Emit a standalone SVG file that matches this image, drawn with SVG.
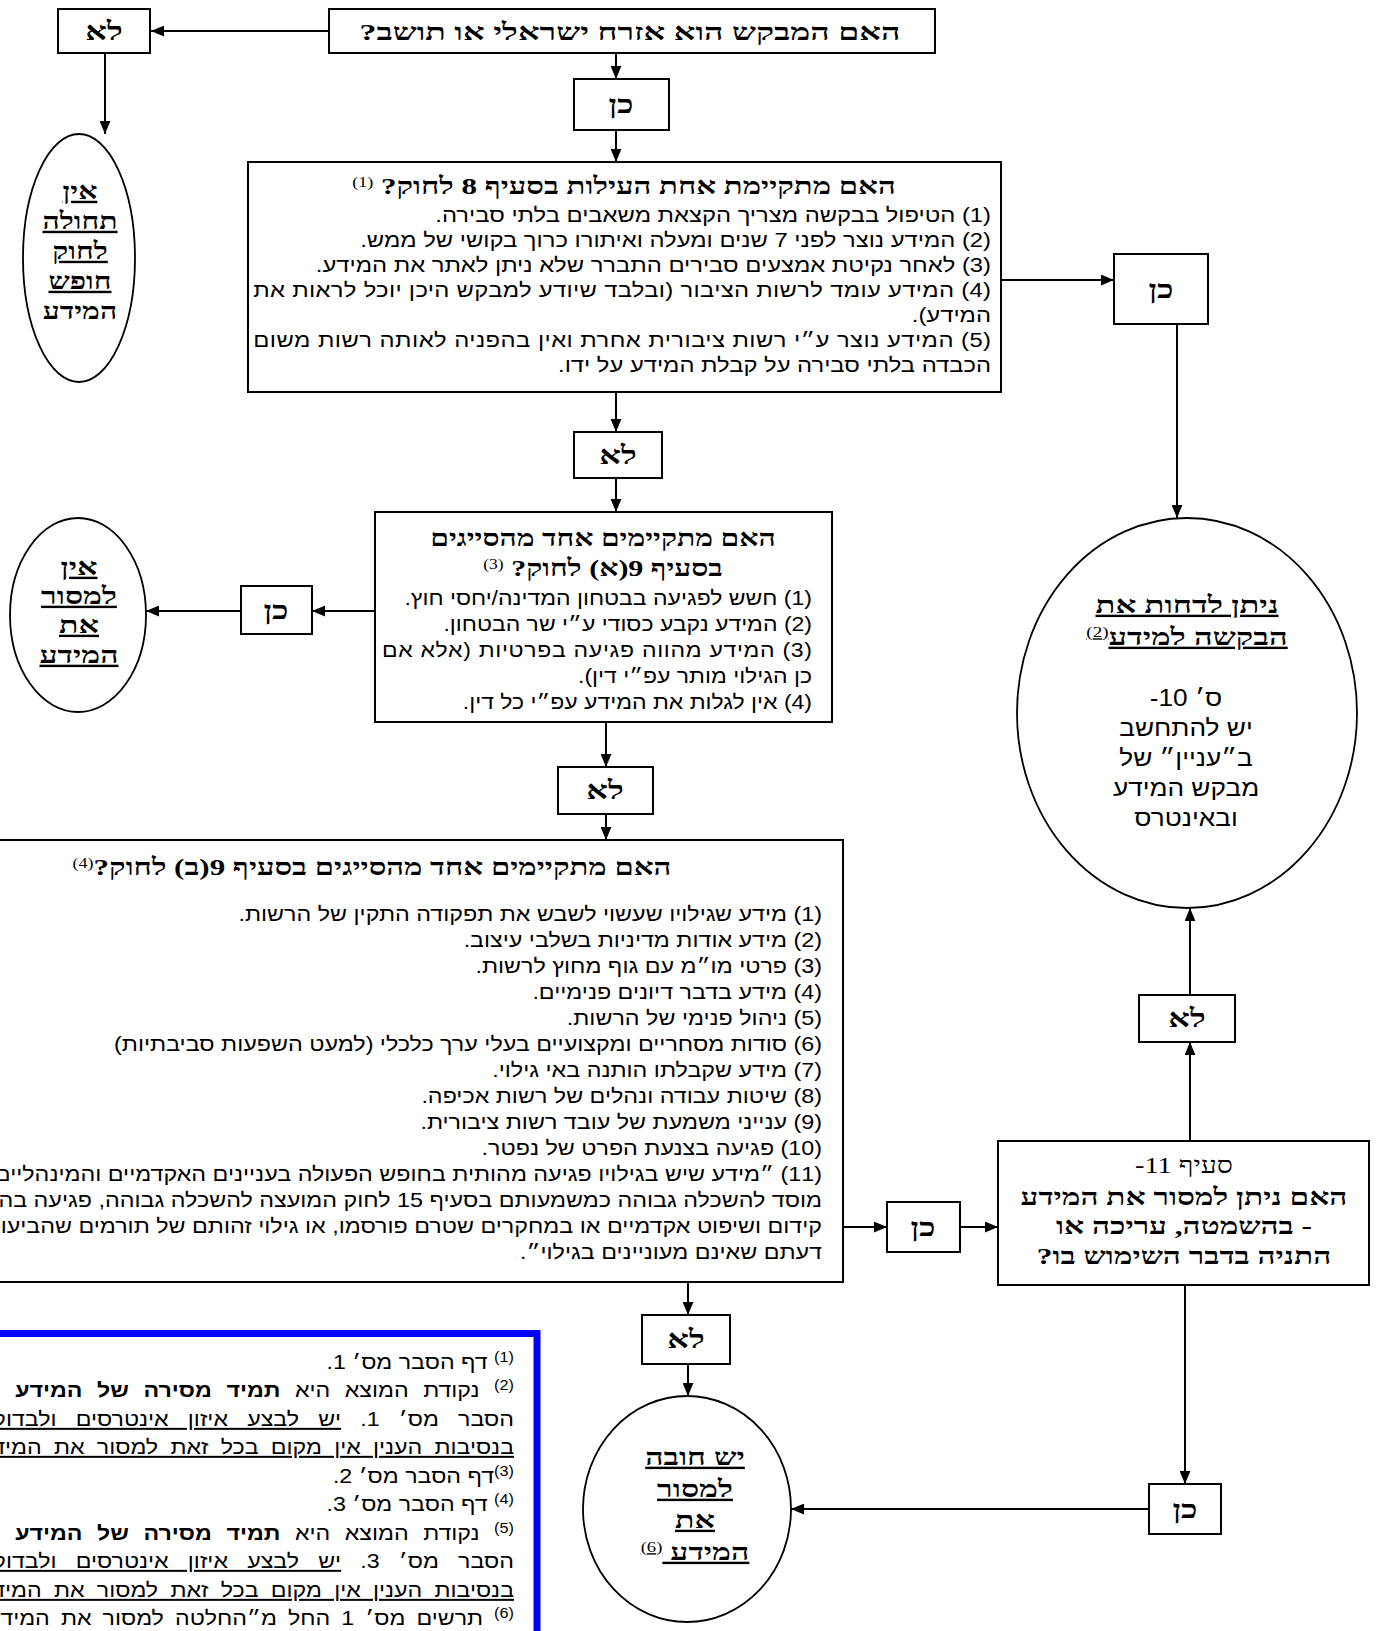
<svg xmlns="http://www.w3.org/2000/svg" width="1378" height="1631" viewBox="0 0 1378 1631">
<style>
.box{fill:#fff;stroke:#000;stroke-width:2}
.ell{fill:#fff;stroke:#000;stroke-width:1.8}
.c{stroke:#000;stroke-width:2;fill:none;marker-end:url(#ah)}
text{font-family:"Liberation Serif","DejaVu Serif",serif;fill:#000;direction:rtl}
.yn{font-weight:bold;font-size:26px;text-anchor:middle}
.t{font-weight:bold;font-size:24px;text-anchor:middle}
.r{font-family:"Liberation Sans","DejaVu Sans",sans-serif;font-size:20px;text-anchor:start}
.e{font-weight:bold;font-size:24px;text-anchor:middle;text-decoration:underline}
.s{font-family:"Liberation Sans","DejaVu Sans",sans-serif;font-size:23px;text-anchor:middle}
.f{font-family:"Liberation Sans","DejaVu Sans",sans-serif;font-size:20px;text-anchor:start}
.u{text-decoration:underline}
.sup{font-size:14px;font-weight:normal}
</style>
<defs>
<marker id="ah" viewBox="0 0 12 10" refX="12" refY="5" markerWidth="13" markerHeight="11" markerUnits="userSpaceOnUse" orient="auto"><path d="M0,0L12,5L0,10z" fill="#000"/></marker>
</defs>

<g id="connectors">
<path class="c" d="M329,31H151"/>
<path class="c" d="M616,53V79"/>
<path class="c" d="M105,53V134"/>
<path class="c" d="M616,130V162"/>
<path class="c" d="M1001,280H1114"/>
<path class="c" d="M1177,324V518"/>
<path class="c" d="M616,392V432"/>
<path class="c" d="M616,478V512"/>
<path class="c" d="M375,611H312"/>
<path class="c" d="M241,611H146"/>
<path class="c" d="M606,722V767"/>
<path class="c" d="M606,814V840"/>
<path class="c" d="M843,1227H887"/>
<path class="c" d="M960,1227H998"/>
<path class="c" d="M1190,1141V1042"/>
<path class="c" d="M1190,995V908"/>
<path class="c" d="M688,1282V1315"/>
<path class="c" d="M688,1364V1396"/>
<path class="c" d="M1185,1285V1484"/>
<path class="c" d="M1149,1509H791"/>
</g>

<g id="q1">
<rect class="box" x="329" y="9" width="606" height="44"/>
<text class="t" x="630" y="40" font-size="25" textLength="541" lengthAdjust="spacingAndGlyphs">האם המבקש הוא אזרח ישראלי או תושב?</text>
</g>
<g id="no1">
<rect class="box" x="58" y="9" width="92" height="44"/>
<g transform="translate(104,0) scale(1.3,1)"><text class="yn" x="0" y="40">לא</text></g>
</g>
<g id="yes1">
<rect class="box" x="574" y="79" width="95" height="51"/>
<g transform="translate(621,0) scale(1.3,1)"><text class="yn" x="0" y="113">כן</text></g>
</g>
<g id="ell1">
<ellipse class="ell" cx="79" cy="258" rx="56" ry="124"/>
<g transform="translate(80,0) scale(1.25,1)">
<text class="e" x="0" y="199">אין</text>
<text class="e" x="0" y="229">תחולה</text>
<text class="e" x="0" y="259">לחוק</text>
<text class="e" x="0" y="289">חופש</text>
<text class="t" x="0" y="319">המידע</text>
</g>
</g>

<g id="sec8">
<rect class="box" x="248" y="162" width="753" height="230"/>
<g transform="translate(624,0) scale(1.29,1)"><text class="t" x="0" y="194">האם מתקיימת אחת העילות בסעיף 8 לחוק? <tspan class="sup" baseline-shift="super">(1)</tspan></text></g>
<g transform="translate(991,0) scale(1.19,1)">
<text class="r" x="0" y="222">(1) הטיפול בבקשה מצריך הקצאת משאבים בלתי סבירה.</text>
<text class="r" x="0" y="247">(2) המידע נוצר לפני 7 שנים ומעלה ואיתורו כרוך בקושי של ממש.</text>
<text class="r" x="0" y="272">(3) לאחר נקיטת אמצעים סבירים התברר שלא ניתן לאתר את המידע.</text>
<text class="r" x="0" y="297" textLength="620" lengthAdjust="spacing">(4) המידע עומד לרשות הציבור (ובלבד שיודע למבקש היכן יוכל לראות את</text>
<text class="r" x="0" y="322">המידע).</text>
<text class="r" x="0" y="347" textLength="620" lengthAdjust="spacing">(5) המידע נוצר ע״י רשות ציבורית אחרת ואין בהפניה לאותה רשות משום</text>
<text class="r" x="0" y="372">הכבדה בלתי סבירה על קבלת המידע על ידו.</text>
</g>
</g>

<g id="yes2">
<rect class="box" x="1114" y="254" width="94" height="70"/>
<g transform="translate(1161,0) scale(1.3,1)"><text class="yn" x="0" y="298">כן</text></g>
</g>

<g id="no2">
<rect class="box" x="574" y="432" width="88" height="46"/>
<g transform="translate(618,0) scale(1.3,1)"><text class="yn" x="0" y="464">לא</text></g>
</g>

<g id="sec9a">
<rect class="box" x="375" y="512" width="457" height="210"/>
<g transform="translate(603,0) scale(1.25,1)">
<text class="t" x="0" y="546">האם מתקיימים אחד מהסייגים</text>
<text class="t" x="0" y="576">בסעיף 9(א) לחוק? <tspan class="sup" baseline-shift="super">(3)</tspan></text>
</g>
<g transform="translate(812,0) scale(1.15,1)">
<text class="r" x="0" y="605">(1) חשש לפגיעה בבטחון המדינה/יחסי חוץ.</text>
<text class="r" x="0" y="631">(2) המידע נקבע כסודי ע״י שר הבטחון.</text>
<text class="r" x="0" y="657" textLength="374" lengthAdjust="spacing">(3) המידע מהווה פגיעה בפרטיות (אלא אם</text>
<text class="r" x="0" y="683">כן הגילוי מותר עפ״י דין).</text>
<text class="r" x="0" y="709">(4) אין לגלות את המידע עפ״י כל דין.</text>
</g>
</g>

<g id="yes3">
<rect class="box" x="241" y="586" width="71" height="48"/>
<g transform="translate(276,0) scale(1.3,1)"><text class="yn" x="0" y="619">כן</text></g>
</g>

<g id="ell2">
<ellipse class="ell" cx="78" cy="615" rx="68" ry="97"/>
<g transform="translate(79,0) scale(1.33,1)">
<text class="e" x="0" y="575">אין</text>
<text class="e" x="0" y="604">למסור</text>
<text class="e" x="0" y="633">את</text>
<text class="e" x="0" y="663">המידע</text>
</g>
</g>

<g id="no3">
<rect class="box" x="558" y="767" width="95" height="47"/>
<g transform="translate(605,0) scale(1.3,1)"><text class="yn" x="0" y="799">לא</text></g>
</g>

<g id="sec9b">
<rect class="box" x="-92" y="840" width="935" height="442"/>
<g transform="translate(372,0) scale(1.29,1)"><text class="t" x="0" y="875">האם מתקיימים אחד מהסייגים בסעיף 9(ב) לחוק?<tspan class="sup" baseline-shift="super">(4)</tspan></text></g>
<g transform="translate(822,0) scale(1.165,1)">
<text class="r" x="0" y="921">(1) מידע שגילויו שעשוי לשבש את תפקודה התקין של הרשות.</text>
<text class="r" x="0" y="947">(2) מידע אודות מדיניות בשלבי עיצוב.</text>
<text class="r" x="0" y="973">(3) פרטי מו״מ עם גוף מחוץ לרשות.</text>
<text class="r" x="0" y="999">(4) מידע בדבר דיונים פנימיים.</text>
<text class="r" x="0" y="1025">(5) ניהול פנימי של הרשות.</text>
<text class="r" x="0" y="1051">(6) סודות מסחריים ומקצועיים בעלי ערך כלכלי (למעט השפעות סביבתיות)</text>
<text class="r" x="0" y="1077">(7) מידע שקבלתו הותנה באי גילוי.</text>
<text class="r" x="0" y="1103">(8) שיטות עבודה ונהלים של רשות אכיפה.</text>
<text class="r" x="0" y="1129">(9) ענייני משמעת של עובד רשות ציבורית.</text>
<text class="r" x="0" y="1155">(10) פגיעה בצנעת הפרט של נפטר.</text>
<text class="r" x="0" y="1181">(11) ״מידע שיש בגילויו פגיעה מהותית בחופש הפעולה בעניינים האקדמיים והמינהליים</text>
<text class="r" x="0" y="1207">מוסד להשכלה גבוהה כמשמעותם בסעיף 15 לחוק המועצה להשכלה גבוהה, פגיעה בהליכי</text>
<text class="r" x="0" y="1233">קידום ושיפוט אקדמיים או במחקרים שטרם פורסמו, או גילוי זהותם של תורמים שהביעו</text>
<text class="r" x="0" y="1259">דעתם שאינם מעוניינים בגילוי״.</text>
</g>
</g>

<g id="ellR">
<ellipse class="ell" cx="1187" cy="713" rx="170" ry="195"/>
<g transform="translate(1187,0) scale(1.36,1)">
<text class="e" x="0" y="613">ניתן לדחות את</text>
<text class="e" x="0" y="645">הבקשה למידע<tspan class="sup" baseline-shift="super">(2)</tspan></text>
</g>
<g transform="translate(1186,0) scale(1.14,1)">
<text class="s" x="0" y="706">ס׳ 10-</text>
<text class="s" x="0" y="736">יש להתחשב</text>
<text class="s" x="0" y="766">ב״עניין״ של</text>
<text class="s" x="0" y="796">מבקש המידע</text>
<text class="s" x="0" y="826">ובאינטרס</text>
</g>
</g>

<g id="noR">
<rect class="box" x="1139" y="995" width="96" height="47"/>
<g transform="translate(1187,0) scale(1.3,1)"><text class="yn" x="0" y="1027">לא</text></g>
</g>

<g id="yes4">
<rect class="box" x="887" y="1202" width="73" height="50"/>
<g transform="translate(923,0) scale(1.3,1)"><text class="yn" x="0" y="1236">כן</text></g>
</g>

<g id="sec11">
<rect class="box" x="998" y="1141" width="371" height="144"/>
<g transform="translate(1184,0) scale(1.23,1)"><text x="0" y="1173" font-size="23" text-anchor="middle">סעיף 11-</text></g>
<g transform="translate(1184,0) scale(1.31,1)">
<text class="t" x="0" y="1205" font-size="26">האם ניתן למסור את המידע</text>
<text class="t" x="0" y="1234" font-size="26">- בהשמטה, עריכה או</text>
<text class="t" x="0" y="1264" font-size="26">התניה בדבר השימוש בו?</text>
</g>
</g>

<g id="noB">
<rect class="box" x="642" y="1315" width="88" height="49"/>
<g transform="translate(686,0) scale(1.3,1)"><text class="yn" x="0" y="1348">לא</text></g>
</g>

<g id="ellB">
<ellipse class="ell" cx="687" cy="1509" rx="104" ry="113"/>
<g transform="translate(695,0) scale(1.33,1)">
<text class="e" x="0" y="1465">יש חובה</text>
<text class="e" x="0" y="1497">למסור</text>
<text class="e" x="0" y="1528">את</text>
<text class="e" x="0" y="1560">המידע <tspan class="sup" baseline-shift="super">(6)</tspan></text>
</g>
</g>

<g id="yesB">
<rect class="box" x="1149" y="1484" width="72" height="50"/>
<g transform="translate(1185,0) scale(1.3,1)"><text class="yn" x="0" y="1518">כן</text></g>
</g>

<g id="footnotes">
<rect x="-20" y="1333.5" width="557" height="330" fill="#fff" stroke="#0000ff" stroke-width="7"/>
<g transform="translate(514,0) scale(1.16,1)">
<text class="f" x="0" y="1369"><tspan class="sup" baseline-shift="super">(1)</tspan> דף הסבר מס׳ 1.</text>
<text class="f" x="0" y="1397" word-spacing="7"><tspan class="sup" baseline-shift="super">(2)</tspan> נקודת המוצא היא <tspan font-weight="900" style="font-weight:900">תמיד מסירה של המידע</tspan></text>
<text class="f" x="0" y="1426" word-spacing="11">הסבר מס׳ 1. <tspan class="u" text-decoration="underline">יש לבצע איזון אינטרסים ולבדוק</tspan></text>
<text class="f u" x="0" y="1454" word-spacing="5">בנסיבות הענין אין מקום בכל זאת למסור את המידע</text>
<text class="f" x="0" y="1483"><tspan class="sup" baseline-shift="super">(3)</tspan>דף הסבר מס׳ 2.</text>
<text class="f" x="0" y="1511"><tspan class="sup" baseline-shift="super">(4)</tspan> דף הסבר מס׳ 3.</text>
<text class="f" x="0" y="1540" word-spacing="7"><tspan class="sup" baseline-shift="super">(5)</tspan> נקודת המוצא היא <tspan font-weight="900" style="font-weight:900">תמיד מסירה של המידע</tspan></text>
<text class="f" x="0" y="1568" word-spacing="11">הסבר מס׳ 3. <tspan class="u" text-decoration="underline">יש לבצע איזון אינטרסים ולבדוק</tspan></text>
<text class="f u" x="0" y="1597" word-spacing="5">בנסיבות הענין אין מקום בכל זאת למסור את המידע</text>
<text class="f" x="0" y="1625" word-spacing="4"><tspan class="sup" baseline-shift="super">(6)</tspan> תרשים מס׳ 1 החל מ״החלטה למסור את המידע״</text>
</g>
</g>
</svg>
